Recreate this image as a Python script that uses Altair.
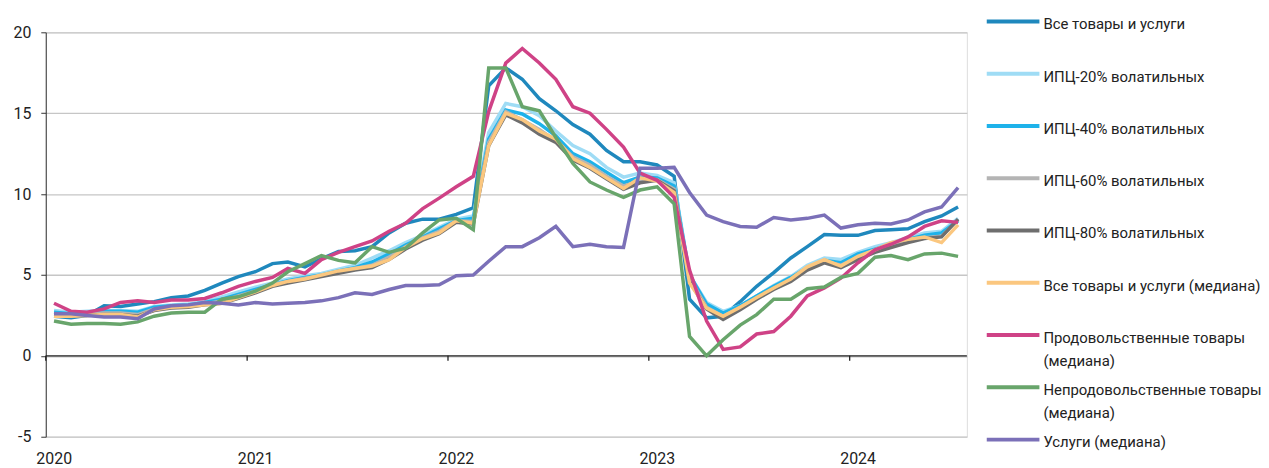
import altair as alt
import pandas as pd

FONT = "Roboto"

# Monthly observations, Jan 2020 - Jul 2024 (plotted at mid-month)
start_month = "2020-01-01"
n_months = 55
year_ticks = [2020, 2021, 2022, 2023, 2024]

series_names = [
    "Все товары и услуги",
    "ИПЦ-20% волатильных",
    "ИПЦ-40% волатильных",
    "ИПЦ-60% волатильных",
    "ИПЦ-80% волатильных",
    "Все товары и услуги (медиана)",
    "Продовольственные товары (медиана)",
    "Непродовольственные товары (медиана)",
    "Услуги (медиана)",
]
series_colors = [
    "#1f88bd", "#9fdcf5", "#1eb2ea", "#b4b4b4", "#6e6e6e",
    "#fbc77f", "#cf4286", "#68a56b", "#7b70b8",
]

all_goods = [2.45, 2.35, 2.5, 3.1, 3.05, 3.2, 3.35, 3.6, 3.7, 4.05, 4.5, 4.9,
             5.2, 5.7, 5.8, 5.5, 6.0, 6.45, 6.5, 6.75, 7.6, 8.2, 8.45, 8.45, 8.75, 9.15,
             16.7, 17.8, 17.1, 15.9, 15.15, 14.3, 13.7, 12.7, 12.0, 12.0, 11.8, 11.1,
             3.5, 2.35, 2.45, 3.35, 4.3, 5.15, 6.05, 6.75, 7.5, 7.45, 7.45, 7.75, 7.8, 7.85, 8.3, 8.65, 9.2]
cpi_ex20 = [2.8, 2.7, 2.75, 2.8, 2.8, 2.75, 3.05, 3.15, 3.2, 3.35, 3.65, 3.95,
            4.25, 4.5, 4.75, 4.95, 5.1, 5.35, 5.6, 6.05, 6.5, 7.0, 7.45, 7.95, 8.45, 8.65,
            13.8, 15.6, 15.4, 14.85, 13.9, 13.0, 12.5, 11.65, 11.05, 11.3, 11.15, 10.7,
            5.0, 3.3, 2.75, 3.1, 3.7, 4.35, 4.9, 5.6, 6.05, 5.95, 6.4, 6.75, 7.0, 7.3, 7.6, 7.7, 8.5]
cpi_ex40 = [2.7, 2.6, 2.65, 2.75, 2.75, 2.7, 3.0, 3.1, 3.15, 3.3, 3.5, 3.8,
            4.1, 4.4, 4.65, 4.85, 5.0, 5.25, 5.45, 5.8, 6.3, 6.85, 7.35, 7.85, 8.35, 8.5,
            13.4, 15.2, 14.95, 14.35, 13.6, 12.5, 12.0, 11.35, 10.7, 11.05, 11.0, 10.5,
            5.0, 3.2, 2.65, 3.1, 3.7, 4.3, 4.85, 5.45, 5.9, 5.75, 6.3, 6.6, 6.9, 7.2, 7.45, 7.6, 8.35]
cpi_ex60 = [2.6, 2.55, 2.6, 2.65, 2.65, 2.55, 2.9, 3.0, 3.05, 3.2, 3.4, 3.7,
            4.0, 4.4, 4.6, 4.8, 4.95, 5.2, 5.4, 5.6, 6.1, 6.75, 7.3, 7.7, 8.35, 8.3,
            13.2, 15.1, 14.6, 14.0, 13.3, 12.3, 11.8, 11.1, 10.5, 10.8, 10.9, 10.3,
            4.8, 3.0, 2.45, 3.0, 3.55, 4.15, 4.7, 5.35, 5.85, 5.6, 6.1, 6.5, 6.8, 7.05, 7.3, 7.4, 8.4]
cpi_ex80 = [2.55, 2.5, 2.5, 2.55, 2.55, 2.45, 2.8, 2.95, 3.0, 3.15, 3.25, 3.55,
            3.9, 4.3, 4.5, 4.7, 4.9, 5.1, 5.3, 5.45, 5.95, 6.6, 7.15, 7.55, 8.25, 8.15,
            13.0, 14.9, 14.4, 13.7, 13.2, 12.1, 11.6, 10.95, 10.3, 10.7, 10.85, 10.2,
            4.6, 2.9, 2.25, 2.85, 3.5, 4.1, 4.6, 5.3, 5.75, 5.45, 5.95, 6.4, 6.7, 7.0, 7.25, 7.35, 8.45]
all_median = [2.45, 2.45, 2.5, 2.55, 2.55, 2.4, 2.85, 3.0, 3.05, 3.15, 3.25, 3.6,
              3.95, 4.35, 4.6, 4.75, 5.0, 5.25, 5.4, 5.55, 5.95, 6.7, 7.25, 7.6, 8.35, 8.2,
              13.0, 15.0, 14.6, 13.9, 13.4, 12.2, 11.65, 11.0, 10.35, 11.0, 10.8, 10.1,
              4.5, 2.95, 2.45, 3.0, 3.6, 4.2, 4.75, 5.5, 5.95, 5.55, 6.15, 6.55, 7.0, 7.2, 7.35, 7.0, 8.1]
food_median = [3.25, 2.75, 2.7, 2.9, 3.3, 3.4, 3.3, 3.45, 3.45, 3.55, 3.9, 4.3,
               4.6, 4.85, 5.4, 5.1, 5.95, 6.4, 6.75, 7.1, 7.7, 8.2, 9.1, 9.75, 10.45, 11.1,
               15.1, 18.1, 19.0, 18.1, 17.1, 15.4, 15.0, 14.0, 12.9, 11.3, 10.85, 9.8,
               5.3, 2.15, 0.4, 0.55, 1.35, 1.5, 2.45, 3.7, 4.2, 4.8, 5.75, 6.55, 6.9, 7.35, 8.0, 8.35, 8.25]
nonfood_median = [2.15, 1.95, 2.0, 2.0, 1.95, 2.1, 2.45, 2.65, 2.7, 2.7, 3.5, 3.65,
                  4.0, 4.5, 5.2, 5.7, 6.2, 5.9, 5.75, 6.75, 6.4, 6.65, 7.6, 8.4, 8.5, 7.8,
                  17.8, 17.8, 15.4, 15.15, 13.5, 11.9, 10.75, 10.25, 9.8, 10.25, 10.45, 9.4,
                  1.2, 0.0, 1.0, 1.9, 2.55, 3.5, 3.5, 4.15, 4.25, 4.85, 5.1, 6.1, 6.2, 5.95, 6.3, 6.35, 6.15]
services_median = [2.6, 2.6, 2.5, 2.4, 2.4, 2.3, 2.9, 3.1, 3.15, 3.3, 3.25, 3.15,
                   3.3, 3.2, 3.25, 3.3, 3.4, 3.6, 3.9, 3.8, 4.1, 4.35, 4.35, 4.4, 4.95, 5.0,
                   5.85, 6.75, 6.75, 7.3, 8.0, 6.75, 6.9, 6.75, 6.7, 11.6, 11.6, 11.65,
                   10.1, 8.7, 8.3, 8.0, 7.95, 8.55, 8.4, 8.5, 8.7, 7.9, 8.1, 8.2, 8.15, 8.4, 8.9, 9.2, 10.4]

series_values = [all_goods, cpi_ex20, cpi_ex40, cpi_ex60, cpi_ex80,
                 all_median, food_median, nonfood_median, services_median]

months = pd.date_range(start_month, periods=n_months, freq="MS")
mid_dates = [(m + pd.Timedelta(days=15)).strftime("%Y-%m-%dT00:00:00") for m in months]

rows = []
for k, (name, vals) in enumerate(zip(series_names, series_values)):
    for d, v in zip(mid_dates, vals):
        rows.append({"date": d, "value": v, "series": name, "k": k})
df = pd.DataFrame(rows)

x_domain = [alt.DateTime(year=2020, month=1, date=1), alt.DateTime(year=2024, month=8, date=1)]
x_scale = alt.Scale(domain=x_domain)
y_scale = alt.Scale(domain=[-5, 20], nice=False, zero=False)

label_expr = (
    "datum.label == 'Продовольственные товары (медиана)' ? ['Продовольственные товары', '(медиана)'] : "
    "datum.label == 'Непродовольственные товары (медиана)' ? ['Непродовольственные товары', '(медиана)'] : "
    "[datum.label, '']"
)

legend = alt.Legend(
    orient="none", legendX=964.5, legendY=-24, title=None, padding=0,
    symbolType="M-4,0.62H4", symbolSize=175.56, symbolStrokeWidth=4, symbolOffset=0,
    labelFont=FONT, labelFontSize=15, labelColor="#222222", labelOffset=21.5,
    labelBaseline="top", labelLimit=400, rowPadding=5.6, labelExpr=label_expr,
)

lines = alt.Chart(df).mark_line(strokeWidth=3.5).encode(
    x=alt.X("date:T", scale=x_scale,
            axis=alt.Axis(values=[alt.DateTime(year=y, month=1, date=1) for y in year_ticks],
                          format="%Y", title=None, grid=False, domain=False, ticks=False,
                          tickSize=0, labelOffset=8, labelPadding=14, labelFlush=False,
                          labelFont=FONT, labelFontSize=16, labelColor="#222222")),
    y=alt.Y("value:Q", scale=y_scale,
            axis=alt.Axis(values=[-5, 0, 5, 10, 15, 20], title=None, grid=True,
                          gridColor="#c6c6c6", gridWidth=1.3, domain=True, domainColor="#333333",
                          ticks=True, tickSize=5, tickColor="#333333", labelPadding=10,
                          labelExpr="'' + datum.value",
                          labelFont=FONT, labelFontSize=16, labelColor="#222222")),
    color=alt.Color("series:N", scale=alt.Scale(domain=series_names, range=series_colors),
                    legend=legend),
    order=alt.Order("k:Q"),
)

zero_df = pd.DataFrame({"value": [0]})
zero_line = alt.Chart(zero_df).mark_rule(color="#222222", strokeWidth=1.3).encode(
    y=alt.Y("value:Q", scale=y_scale)
)

tick_df = pd.DataFrame({"date": [f"{y}-01-01T00:00:00" for y in year_ticks]})
year_marks = alt.Chart(tick_df).mark_rule(color="#222222", strokeWidth=1.3).encode(
    x=alt.X("date:T", scale=x_scale),
    y=alt.datum(0),
    y2=alt.datum(-0.3),
)

chart = alt.layer(zero_line, lines, year_marks).properties(
    width=927, height=407,
    autosize=alt.AutoSizeParams(type="none"),
    padding={"left": 38, "top": 23, "right": 296, "bottom": 30},
).configure_view(stroke=None).configure(
    font=FONT, style={"guide-label": {"lineHeight": 23}}
)

chart.save("out.html", embed_options={"renderer": "svg", "actions": False})
